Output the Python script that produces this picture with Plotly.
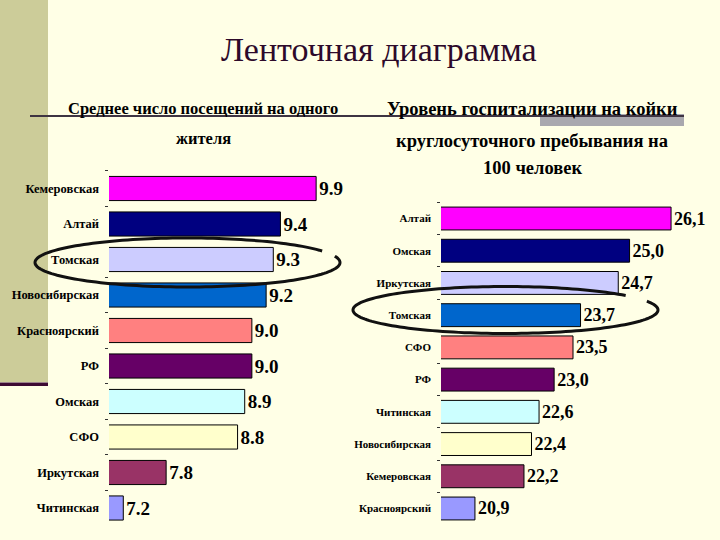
import numpy as np
import plotly.graph_objects as go

# ---------------- data ----------------
left_title_lines = ["Среднее число посещений на одного", "жителя"]
left_categories = ["Кемеровская", "Алтай", "Томская", "Новосибирская", "Красноярский",
                   "РФ", "Омская", "СФО", "Иркутская", "Читинская"]
left_values = [9.9, 9.4, 9.3, 9.2, 9.0, 9.0, 8.9, 8.8, 7.8, 7.2]

right_title_lines = ["Уровень госпитализации на койки", "круглосуточного пребывания на", "100 человек"]
right_categories = ["Алтай", "Омская", "Иркутская", "Томская", "СФО", "РФ",
                    "Читинская", "Новосибирская", "Кемеровская", "Красноярский"]
right_values = [26.1, 25.0, 24.7, 23.7, 23.5, 23.0, 22.6, 22.4, 22.2, 20.9]

bar_colors = ["#FF00FF", "#000080", "#CCCCFF", "#0066CC", "#FF8080",
              "#660066", "#CCFFFF", "#FFFFCC", "#993366", "#9999FF"]

main_title = "Ленточная диаграмма"

# ---------------- helpers ----------------
W, H = 720, 540
def px(x):
    return x / W
def py(y):
    return 1 - y / H

SERIF = "Liberation Serif"
BG = "#FFFFE6"

fig = go.Figure()

fig.add_trace(go.Bar(
    x=left_values, y=left_categories, orientation="h",
    marker=dict(color=bar_colors, line=dict(color="#000000", width=1)),
    width=0.68,
    text=[f"{v:.1f}" for v in left_values],
    textposition="outside", cliponaxis=False, constraintext="none",
    textfont=dict(family=SERIF, size=19, color="#000000", weight="bold"),
    xaxis="x", yaxis="y", hoverinfo="skip",
))

fig.add_trace(go.Bar(
    x=right_values, y=right_categories, orientation="h",
    marker=dict(color=bar_colors, line=dict(color="#000000", width=1)),
    width=0.71,
    text=[f"{v:.1f}".replace(".", ",") for v in right_values],
    textposition="outside", cliponaxis=False, constraintext="none",
    textfont=dict(family=SERIF, size=18, color="#000000", weight="bold"),
    xaxis="x2", yaxis="y2", hoverinfo="skip",
))

ycommon = dict(autorange="reversed", showgrid=False, zeroline=False, showline=False,
               ticks="outside", tickson="boundaries", ticklen=3, tickwidth=1,
               tickcolor="#333333", ticklabelstandoff=9)

fig.update_layout(
    width=W, height=H,
    margin=dict(l=0, r=0, t=0, b=0),
    paper_bgcolor=BG, plot_bgcolor="rgba(0,0,0,0)",
    showlegend=False,
    xaxis=dict(domain=[px(109), px(359)], range=[7, 10.5], visible=False, anchor="y"),
    yaxis=dict(domain=[py(525.75), py(170.75)], anchor="x",
               tickfont=dict(family=SERIF, size=12.5, color="#000000", weight="bold"),
               **ycommon),
    xaxis2=dict(domain=[px(441), px(705)], range=[20, 27], visible=False, anchor="y2"),
    yaxis2=dict(domain=[py(524.6), py(202.4)], anchor="x2",
                tickfont=dict(family=SERIF, size=11, color="#000000", weight="bold"),
                **ycommon),
)

shapes = []
# left olive stripe
shapes.append(dict(type="rect", xref="paper", yref="paper", layer="below",
                   x0=px(0), x1=px(48), y0=py(382), y1=py(0),
                   fillcolor="#CCCC99", line=dict(width=0)))
# dark bar under the stripe
shapes.append(dict(type="rect", xref="paper", yref="paper", layer="below",
                   x0=px(0), x1=px(48), y0=py(386), y1=py(382.5),
                   fillcolor="#3D0A33", line=dict(width=0)))
# grey block at the right end of the rule
shapes.append(dict(type="rect", xref="paper", yref="paper", layer="below",
                   x0=px(540), x1=px(684), y0=py(126), y1=py(114),
                   fillcolor="#A9A8AE", line=dict(width=0)))
# horizontal rule
shapes.append(dict(type="line", xref="paper", yref="paper", layer="below",
                   x0=px(30), x1=px(684), y0=py(116), y1=py(116),
                   line=dict(color="#3E3442", width=2)))

def ellipse_path(cx, cy, rx, ry, gap_start, gap_end):
    t = np.radians(np.linspace(gap_end, gap_start + 360, 160))
    xs = cx + rx * np.cos(t)
    ys = cy - ry * np.sin(t)
    pts = [f"{px(x):.5f},{py(y):.5f}" for x, y in zip(xs, ys)]
    return "M " + " L ".join(pts)

shapes.append(dict(type="path", xref="paper", yref="paper", layer="above",
                   path=ellipse_path(187.5, 262.5, 152.5, 24.5, 15, 28),
                   line=dict(color="#111111", width=3)))
shapes.append(dict(type="path", xref="paper", yref="paper", layer="above",
                   path=ellipse_path(505.5, 310, 152.5, 23.5, 22, 38),
                   line=dict(color="#111111", width=3)))
fig.update_layout(shapes=shapes)

ann = []
ann.append(dict(text=main_title, x=px(379), y=py(49), xref="paper", yref="paper",
                showarrow=False, xanchor="center", yanchor="middle",
                font=dict(family=SERIF, size=34, color="#2D0A2A")))
for line, yy in zip(left_title_lines, [109, 138]):
    ann.append(dict(text=line, x=px(203), y=py(yy), xref="paper", yref="paper",
                    showarrow=False, xanchor="center", yanchor="middle",
                    font=dict(family=SERIF, size=16.5, color="#000000", weight="bold")))
for line, yy in zip(right_title_lines, [109, 141, 168]):
    ann.append(dict(text=line, x=px(532), y=py(yy), xref="paper", yref="paper",
                    showarrow=False, xanchor="center", yanchor="middle",
                    font=dict(family=SERIF, size=18.5, color="#000000", weight="bold")))
fig.update_layout(annotations=ann)

fig.write_html("out.html")
